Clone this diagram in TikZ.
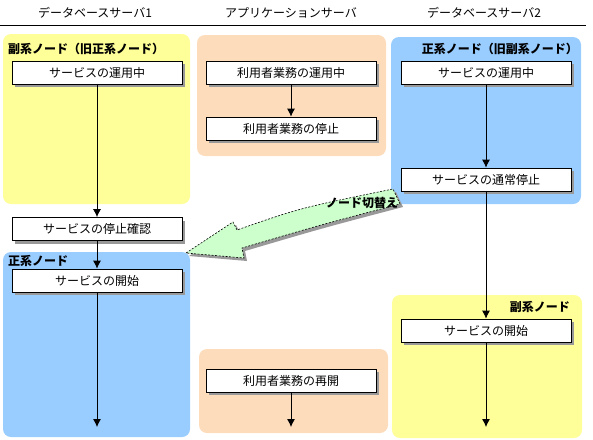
\documentclass[tikz,border=0pt]{standalone}
\usepackage{fontspec}
\setmainfont{Noto Sans CJK JP}
\usetikzlibrary{arrows.meta,shadows}
\definecolor{paleyellow}{HTML}{FFFF99}
\definecolor{paleblue}{HTML}{99CCFF}
\definecolor{paleorange}{HTML}{FDDCBC}
\definecolor{palegreen}{HTML}{CCFFCC}
\begin{document}
\begin{tikzpicture}[x=1pt,y=-1pt,>={Latex[length=8pt,width=8pt]},
  box/.style={draw,fill=white,line width=0.8pt,minimum width=170pt,minimum height=23pt,inner sep=0pt,
    font=\fontsize{12}{14}\selectfont,
    drop shadow={shadow xshift=3pt,shadow yshift=-3pt,fill=gray!80,opacity=1}},
  zone/.style={rounded corners=8pt},
  title/.style={font=\bfseries\fontsize{12}{14}\selectfont,inner sep=0pt},
  head/.style={font=\fontsize{12}{14}\selectfont}]
\useasboundingbox (0,0) rectangle (593,439);
% headers
\node[head] (h1) at (95,13) {データベースサーバ1};
\node[head] (h2) at (291,13) {アプリケーションサーバ};
\node[head] (h3) at (484,13) {データベースサーバ2};
\draw[line width=0.8pt] (0,25) -- (586,25);
% panels
\fill[paleyellow,zone] (3,34) rectangle (190,204);
\fill[paleblue,zone] (3,252) rectangle (190,437);
\fill[paleorange,zone] (197,35) rectangle (386,156);
\fill[paleorange,zone] (199,349) rectangle (388,433);
\fill[paleblue,zone] (391,37) rectangle (581,204);
\fill[paleyellow,zone] (392,295) rectangle (582,438);
\node[title,anchor=west] (t1) at (8,49) {副系ノード（旧正系ノード）};
\node[title,anchor=west] (t2) at (8,261) {正系ノード};
\node[title,anchor=east] (t3) at (578,49) {正系ノード（旧副系ノード）};
\node[title,anchor=east] (t4) at (570,307) {副系ノード};
% boxes
\node[box] (a1) at (97,72.5) {サービスの運用中};
\node[box] (a2) at (97,229) {サービスの停止確認};
\node[box] (a3) at (97,280.5) {サービスの開始};
\node[box] (b1) at (291,72.5) {利用者業務の運用中};
\node[box] (b2) at (291,128.5) {利用者業務の停止};
\node[box] (b3) at (291,380.5) {利用者業務の再開};
\node[box] (c1) at (486,72.5) {サービスの運用中};
\node[box] (c2) at (486,179.5) {サービスの通常停止};
\node[box] (c3) at (486,330.5) {サービスの開始};
\coordinate (a4) at (97,427);
\coordinate (b4) at (291,427);
\coordinate (c4) at (486,427);
\path[->,line width=0.8pt]
  (a1) edge (a2)
  (a2) edge (a3)
  (a3) edge (a4)
  (b1) edge (b2)
  (b3) edge (b4)
  (c1) edge (c2)
  (c2) edge (c3)
  (c3) edge (c4);
% switch-over arrow
\path[draw,fill=palegreen,line width=0.6pt,dash pattern=on 2pt off 1.5pt,
  drop shadow={shadow xshift=3pt,shadow yshift=-3pt,fill=gray!80,opacity=1}]
  (186,253) -- (233,222) -- (237,230) .. controls (300,208) .. (393,189)
  -- (400,204) .. controls (320,225) .. (242,248) -- (244,258) -- cycle;
\node[title] (sw) at (362,203) {ノード切替え};
\end{tikzpicture}
\end{document}
